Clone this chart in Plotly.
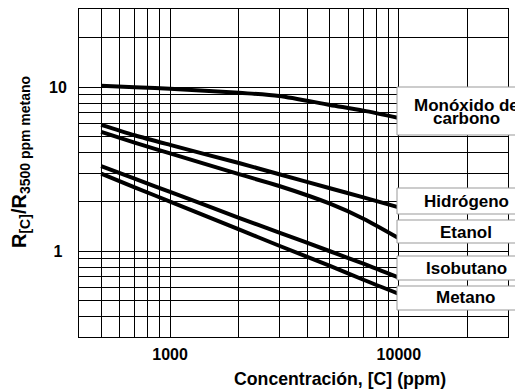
import plotly.graph_objects as go
import math

# ---- data ----
conc = [500, 700, 1000, 2000, 3000, 5000, 7000, 10000]
co = [10.2, 10.0, 9.8, 9.25, 8.85, 7.8, 7.2, 6.5]
hidrogeno = [5.9, 5.1, 4.45, 3.45, 2.95, 2.42, 2.13, 1.85]
etanol = [5.35, 4.6, 3.95, 2.95, 2.5, 1.95, 1.58, 1.2]
isobutano = [3.3, 2.77, 2.3, 1.6, 1.3, 1.0, 0.84, 0.69]
metano = [2.97, 2.45, 2.01, 1.36, 1.08, 0.815, 0.67, 0.55]

series_names = ["Monóxido de carbono", "Hidrógeno", "Etanol", "Isobutano", "Metano"]
series_vals = [co, hidrogeno, etanol, isobutano, metano]
label_lines = [["Monóxido de", "carbono"], ["Hidrógeno"], ["Etanol"], ["Isobutano"], ["Metano"]]

x_ticks = [1000, 10000]
x_ticklabels = ["1000", "10000"]
x_grid = [500, 600, 700, 800, 900, 2000, 3000, 4000, 5000, 6000, 7000, 8000, 9000, 20000]
y_ticks = [1, 10]
y_ticklabels = ["1&nbsp;", "10"]
y_grid = [0.4, 0.5, 0.6, 0.7, 0.8, 0.9, 2, 3, 4, 5, 6, 7, 8, 9, 20]

x_title = "Concentración, [C] (ppm)"
y_title = "R<sub>[C]</sub>/R<sub>3500 ppm metano</sub>"

# ---- layout geometry (page pixels; the page body adds an 8px offset) ----
OFF = 8
PAGE_W, PAGE_H = 523, 389
W, H = PAGE_W - OFF, PAGE_H - OFF
plot_left, plot_right, plot_top, plot_bottom = 79, 508, 9, 337
L, T = plot_left - OFF, plot_top - OFF
R, B = W - (plot_right - OFF), H - (plot_bottom - OFF)
pw, ph = W - L - R, H - T - B
FONT = "Liberation Sans, Arial, sans-serif"


def px(xp):
    return (xp - plot_left) / pw


def py(yp):
    return (plot_bottom - yp) / ph


fig = go.Figure()
for name, vals in zip(series_names, series_vals):
    fig.add_trace(go.Scatter(x=conc, y=vals, mode="lines", name=name,
                             line=dict(color="black", width=4, shape="spline", smoothing=0.8),
                             showlegend=False))

# label boxes (page pixel boxes) and texts
boxes = [(87, 135), (188, 214), (220, 243), (256, 280), (286, 310)]
text_y = [[105, 119], [201], [232], [268], [297]]
for (y0, y1), lines, ys in zip(boxes, label_lines, text_y):
    fig.add_shape(type="rect", xref="paper", yref="paper",
                  x0=px(397), x1=px(548), y0=py(y1), y1=py(y0),
                  fillcolor="white", line=dict(color="#999999", width=1), layer="above")
    for t, yy in zip(lines, ys):
        fig.add_annotation(text="<b>%s</b>" % t, xref="paper", yref="paper",
                           x=px(466), y=py(yy), xanchor="center", yanchor="middle",
                           showarrow=False, font=dict(family=FONT, size=17, color="black"))

fig.add_annotation(text="<b>%s</b>" % x_title, xref="paper", yref="paper",
                   x=px(340), y=py(379), xanchor="center", yanchor="middle",
                   showarrow=False, font=dict(family=FONT, size=17.7, color="black"))
fig.add_annotation(text="<b>%s</b>" % y_title, xref="paper", yref="paper",
                   x=px(20), y=py(162), xanchor="center", yanchor="middle", textangle=-90,
                   showarrow=False, font=dict(family=FONT, size=20, color="black"))

axis_common = dict(type="log", showgrid=True, gridcolor="black", gridwidth=1,
                   showline=True, linecolor="black", linewidth=1, mirror=True,
                   tickcolor="rgba(0,0,0,0)", tickangle=0, automargin=False,
                   tickfont=dict(family=FONT, size=16, color="black"), zeroline=False)

fig.update_xaxes(range=[math.log10(400), math.log10(30000)],
                 tickmode="array", tickvals=x_ticks, ticktext=["<b>%s</b>" % t for t in x_ticklabels],
                 ticks="outside", ticklen=3,
                 minor=dict(tickmode="array", tickvals=x_grid, showgrid=True,
                            gridcolor="black", gridwidth=1, ticks=""),
                 **axis_common)
fig.update_yaxes(range=[math.log10(0.3), math.log10(30)],
                 tickmode="array", tickvals=y_ticks, ticktext=["<b>%s</b>" % t for t in y_ticklabels],
                 ticks="outside", ticklen=8,
                 minor=dict(tickmode="array", tickvals=y_grid, showgrid=True,
                            gridcolor="black", gridwidth=1, ticks=""),
                 **axis_common)

fig.update_layout(width=W, height=H, margin=dict(l=L, r=R, t=T, b=B, autoexpand=False),
                  paper_bgcolor="white", plot_bgcolor="white", showlegend=False)

fig.write_html("out.html")
